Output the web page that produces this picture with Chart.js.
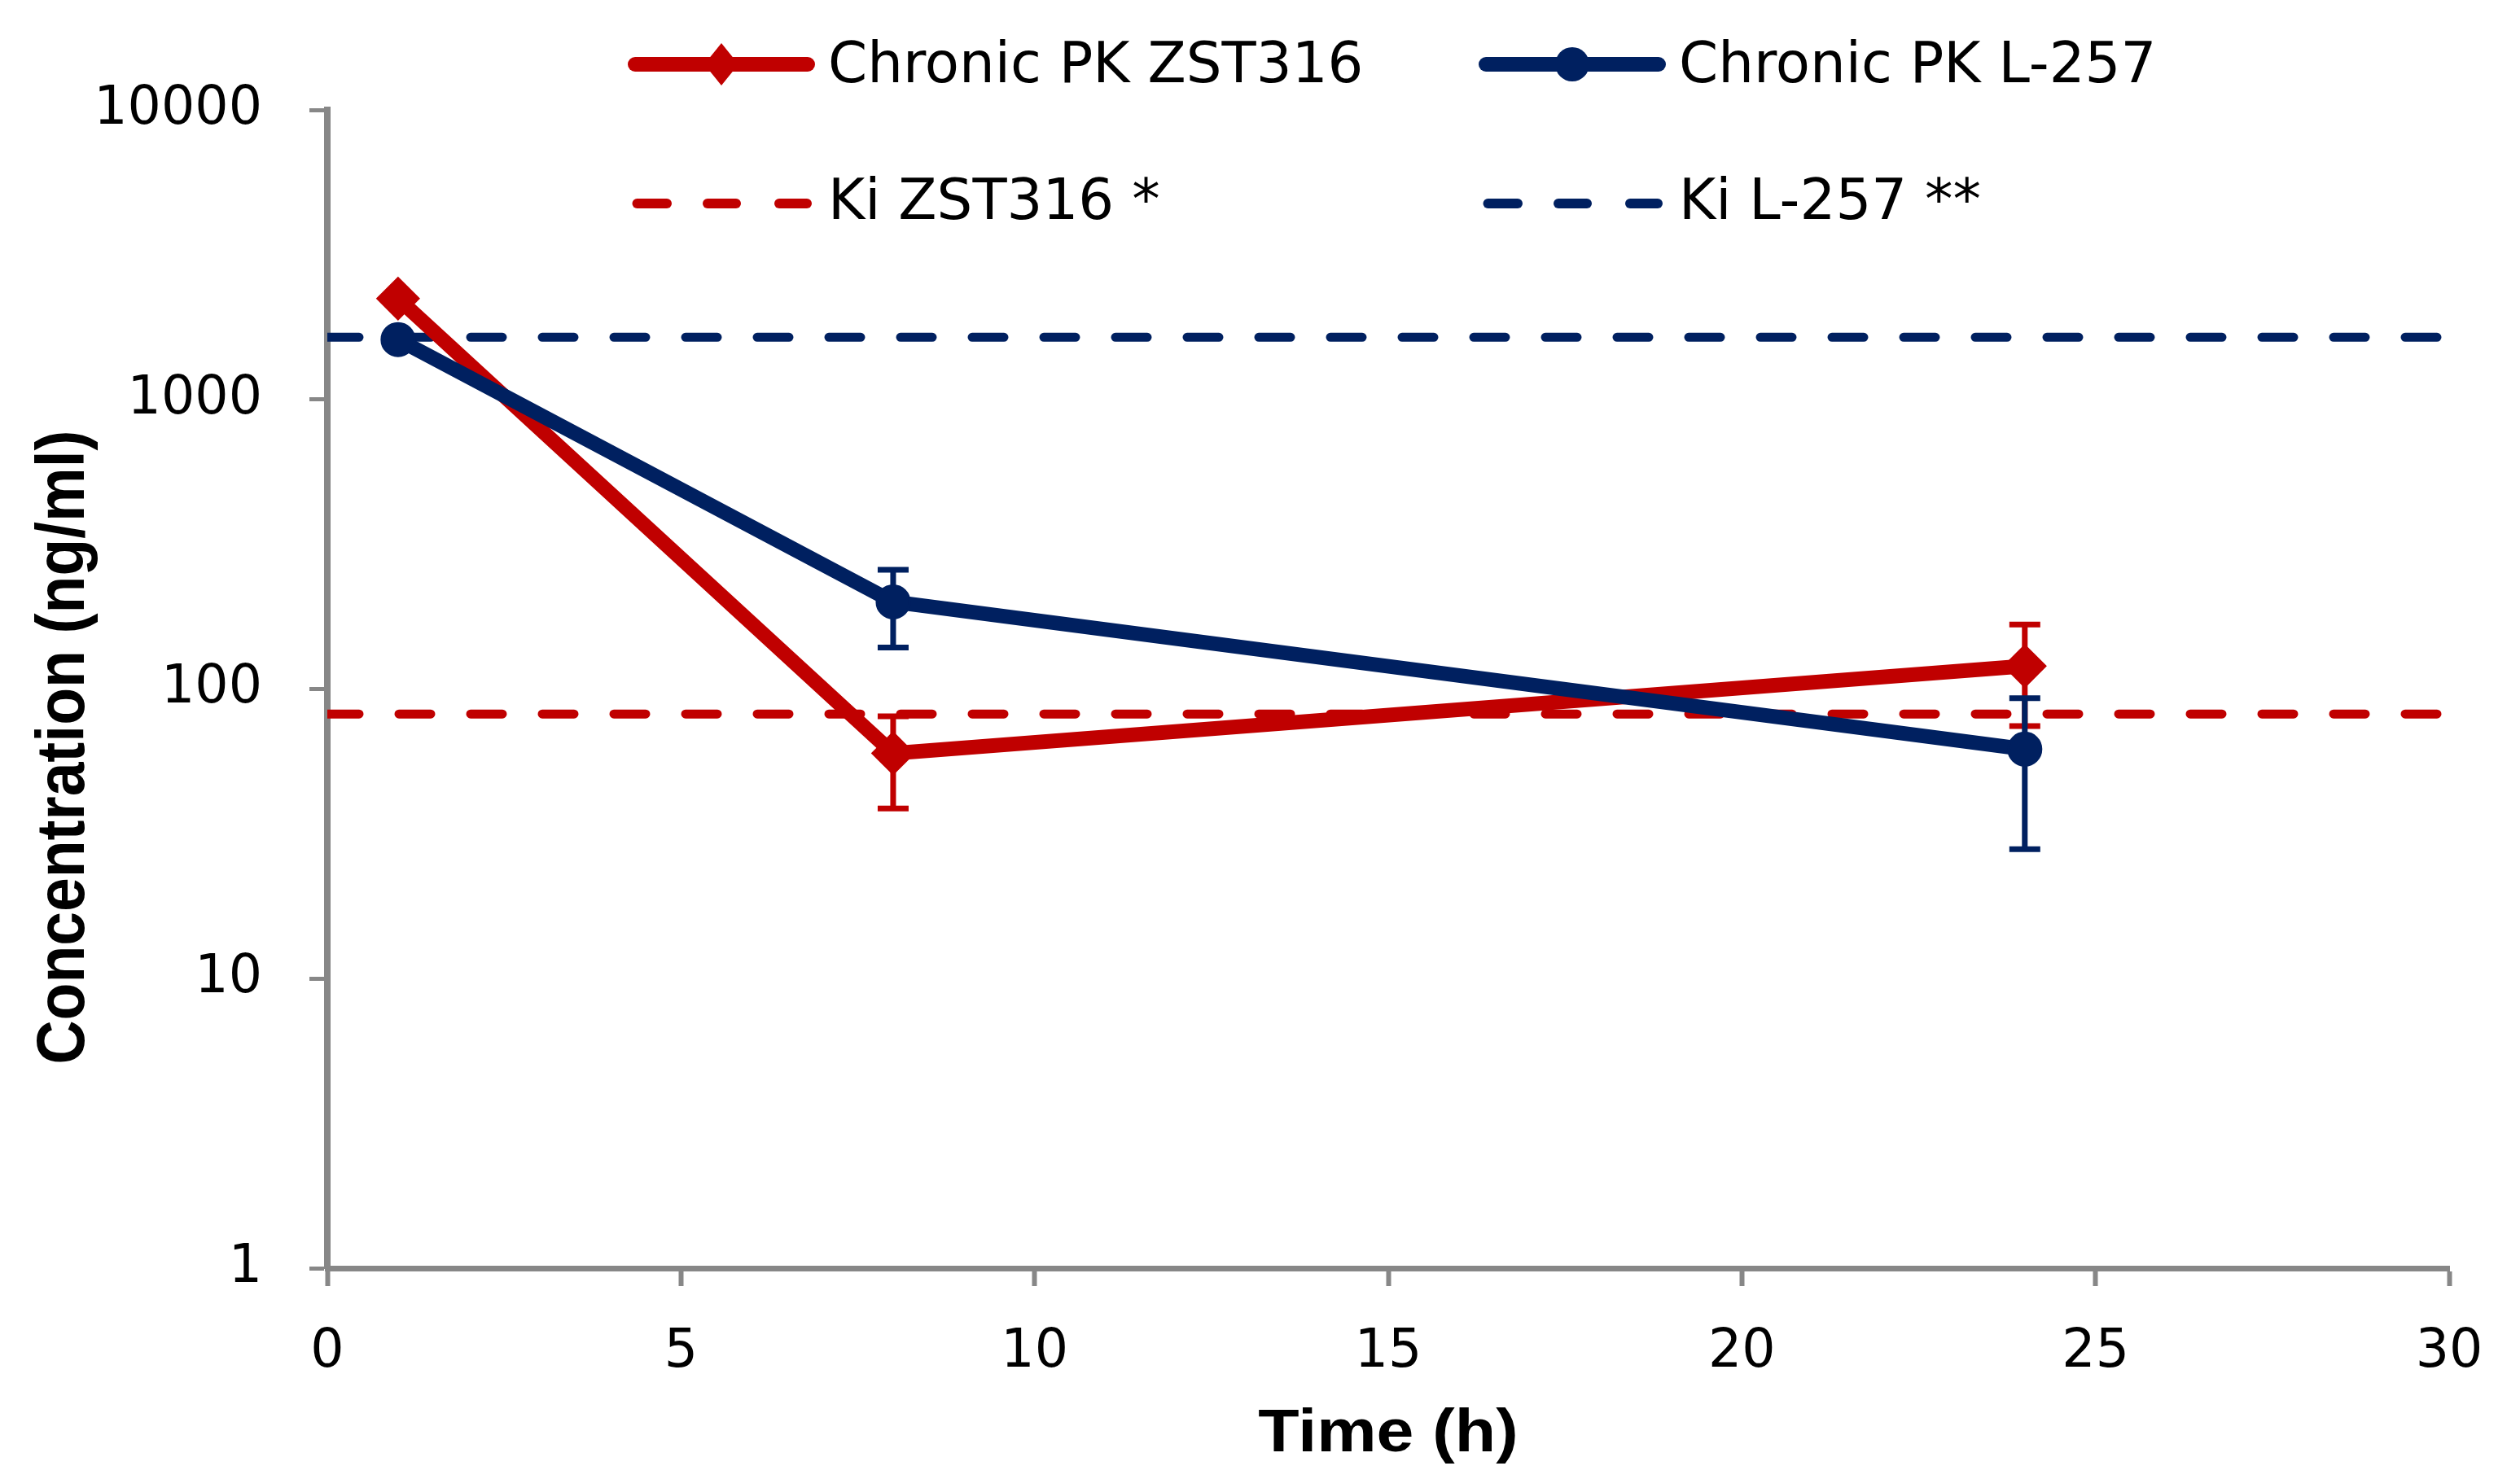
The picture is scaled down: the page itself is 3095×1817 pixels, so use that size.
<!DOCTYPE html>
<html><head><meta charset="utf-8">
<script src="https://cdn.jsdelivr.net/npm/chart.js@4/dist/chart.umd.min.js"></script>
<style>
html,body{margin:0;padding:0;background:#fff;}
#wrap{position:relative;width:3095px;height:1817px;overflow:hidden;}
#c{position:absolute;left:0;top:0;}
.legtxt{position:absolute;font-family:"DejaVu Sans";font-size:69px;line-height:69px;color:#000;white-space:nowrap;}
.legsym{position:absolute;}
</style></head><body>
<div id="wrap"><canvas id="c" width="3095" height="1817"></canvas><div id="legend"></div></div>
<script>
// ---- data ----
const timeZST = [1, 8, 24];
const concZST = [2230, 60, 120];
const lowZST  = [null, 38.7, 74.5];
const highZST = [null, 80.5, 167];

const timeL257 = [1, 8, 24];
const concL257 = [1610, 200, 62];
const lowL257  = [null, 139, 28];
const highL257 = [null, 258, 93];

const kiZST = 82;
const kiL257 = 1640;
const kiRange = [0, 30];

const yTickValues = [1, 10, 100, 1000, 10000];
const xTickValues = [0, 5, 10, 15, 20, 25, 30];

const seriesLabels = ['Chronic PK ZST316', 'Chronic PK L-257', 'Ki ZST316 *', 'Ki L-257 **'];
const xTitle = 'Time (h)';
const yTitle = 'Concentration (ng/ml)';

// ---- styles ----
const RED = '#C00000', NAVY = '#002060', GRAY = '#878787';

const pts = (xs, ys) => xs.map((x, i) => ({x, y: ys[i]}));
const errors = {
  0: {xs: timeZST, low: lowZST, high: highZST, color: RED},
  1: {xs: timeL257, low: lowL257, high: highL257, color: NAVY}
};

const errorBarPlugin = {
  id: 'errorBars',
  beforeDatasetDraw(chart, args) {
    const e = errors[args.index];
    if (!e) return;
    const {ctx, scales: {x, y}} = chart;
    ctx.save();
    ctx.strokeStyle = e.color;
    ctx.lineWidth = 7;
    ctx.lineCap = 'butt';
    e.xs.forEach((xv, i) => {
      if (e.low[i] == null) return;
      const px = x.getPixelForValue(xv);
      const pl = y.getPixelForValue(e.low[i]);
      const ph = y.getPixelForValue(e.high[i]);
      ctx.beginPath();
      ctx.moveTo(px, pl); ctx.lineTo(px, ph);
      ctx.moveTo(px - 19, pl); ctx.lineTo(px + 19, pl);
      ctx.moveTo(px - 19, ph); ctx.lineTo(px + 19, ph);
      ctx.stroke();
    });
    ctx.restore();
  }
};

// axis titles (drawn with a slight horizontal stretch like the reference)
const titlePlugin = {
  id: 'axisTitles',
  afterDraw(chart) {
    const {ctx, chartArea: a} = chart;
    ctx.save();
    ctx.fillStyle = '#000';
    ctx.font = 'bold 75px "Liberation Sans"';
    ctx.textAlign = 'center';
    ctx.textBaseline = 'alphabetic';
    ctx.save();
    ctx.translate((a.left + a.right) / 2, 1783);
    ctx.scale(1.1, 1);
    ctx.fillText(xTitle, 0, 0);
    ctx.restore();
    ctx.save();
    ctx.translate(103, 918);
    ctx.scale(1.1, 1);
    ctx.rotate(-Math.PI / 2);
    ctx.fillText(yTitle, 0, 0);
    ctx.restore();
    ctx.restore();
  }
};

const tickFont = {family: 'DejaVu Sans', size: 65};

new Chart(document.getElementById('c'), {
  type: 'scatter',
  data: {
    datasets: [
      {label: seriesLabels[0], data: pts(timeZST, concZST), showLine: true,
       borderColor: RED, backgroundColor: RED, borderWidth: 18,
       pointStyle: 'rectRot', pointRadius: 25, pointBorderWidth: 3, order: 1},
      {label: seriesLabels[1], data: pts(timeL257, concL257), showLine: true,
       borderColor: NAVY, backgroundColor: NAVY, borderWidth: 18,
       pointStyle: 'circle', pointRadius: 20, pointBorderWidth: 3, order: 0},
      {label: seriesLabels[2], data: pts(kiRange, [kiZST, kiZST]), showLine: true,
       borderColor: RED, borderWidth: 11, borderDash: [39, 49], borderCapStyle: 'round',
       pointRadius: 0, order: 2},
      {label: seriesLabels[3], data: pts(kiRange, [kiL257, kiL257]), showLine: true,
       borderColor: NAVY, borderWidth: 11, borderDash: [39, 49], borderCapStyle: 'round',
       pointRadius: 0, order: 3}
    ]
  },
  options: {
    responsive: false,
    devicePixelRatio: 1,
    animation: false,
    events: [],
    layout: {padding: {left: 0, right: 87, top: 135, bottom: 0}},
    plugins: {legend: {display: false}, tooltip: {enabled: false}},
    scales: {
      x: {
        type: 'linear', min: 0, max: 30,
        afterFit: s => { s.height = 259; },
        afterBuildTicks: s => { s.ticks = xTickValues.map(v => ({value: v})); },
        ticks: {font: tickFont, color: '#000', padding: 43, autoSkip: false, maxRotation: 0},
        grid: {drawOnChartArea: false, drawTicks: true, tickLength: 22, tickWidth: 6, tickColor: GRAY, color: GRAY},
        border: {display: true, color: GRAY, width: 7},
        title: {display: false}
      },
      y: {
        type: 'logarithmic', min: 1, max: 10000,
        afterFit: s => { s.width = 402; },
        afterBuildTicks: s => { s.ticks = yTickValues.map(v => ({value: v})); },
        ticks: {font: tickFont, color: '#000', padding: 58, autoSkip: false, callback: v => String(v)},
        grid: {drawOnChartArea: false, drawTicks: true, tickLength: 22, tickWidth: 5, tickColor: GRAY, color: GRAY},
        border: {display: true, color: GRAY, width: 8},
        title: {display: false}
      }
    }
  },
  plugins: [errorBarPlugin, titlePlugin]
});

// ---- HTML legend (2 x 2) ----
const legendItems = [
  {label: seriesLabels[0], color: RED,  kind: 'diamond', x0: 771,  textLeft: 1017, cy: 79,  base: 101},
  {label: seriesLabels[1], color: NAVY, kind: 'circle',  x0: 1816, textLeft: 2062, cy: 79,  base: 101},
  {label: seriesLabels[2], color: RED,  kind: 'dash',    x0: 771,  textLeft: 1017, cy: 250, base: 269},
  {label: seriesLabels[3], color: NAVY, kind: 'dash',    x0: 1816, textLeft: 2062, cy: 250, base: 269}
];
function markerSVG(kind, c) {
  // svg is 230 x 60, centre line at y=30
  let inner = '';
  if (kind === 'dash') {
    inner = [[11.5, 48], [98, 133], [186, 220]].map(([a, b]) =>
      `<line x1="${a}" y1="30" x2="${b}" y2="30" stroke="${c}" stroke-width="12" stroke-linecap="round"/>`).join('');
  } else {
    inner = `<line x1="9" y1="30" x2="221" y2="30" stroke="${c}" stroke-width="18" stroke-linecap="round"/>`;
    inner += kind === 'diamond'
      ? `<polygon points="115,4 136,30 115,56 94,30" fill="${c}"/>`
      : `<circle cx="115" cy="30" r="21" fill="${c}"/>`;
  }
  return `<svg width="230" height="60" viewBox="0 0 230 60">${inner}</svg>`;
}
const legend = document.getElementById('legend');
legendItems.forEach(it => {
  const s = document.createElement('div');
  s.className = 'legsym';
  s.style.left = it.x0 + 'px';
  s.style.top = (it.cy - 30) + 'px';
  s.innerHTML = markerSVG(it.kind, it.color);
  legend.appendChild(s);
  const t = document.createElement('div');
  t.className = 'legtxt';
  t.style.left = it.textLeft + 'px';
  t.style.top = (it.base - 58.4) + 'px';
  t.textContent = it.label;
  legend.appendChild(t);
});
</script>
</body></html>
